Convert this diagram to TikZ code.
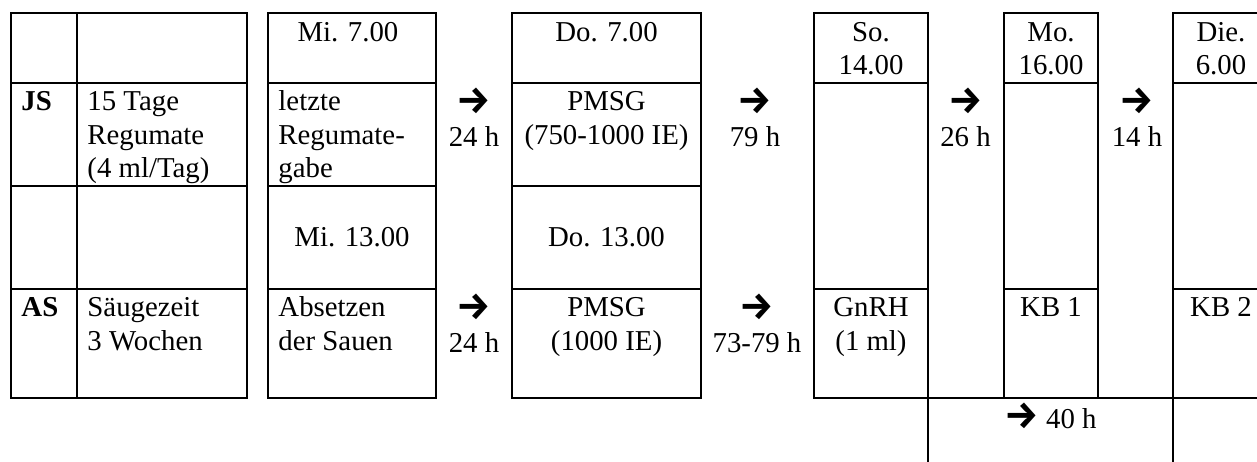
\documentclass[tikz,border=0pt]{standalone}
\usepackage{fontspec}
\setmainfont{Liberation Serif}
\newfontfamily\arrowfont{Fira Sans}
% rightwards arrow used between the day columns
\newcommand\harr{{\arrowfont\fontsize{16pt}{13.9pt}\selectfont\bfseries →}}
\begin{document}
\begin{tikzpicture}[x=0.41667pt,y=-0.41667pt,
  rule/.style={line width=0.85pt},
  cell/.style={font=\fontsize{12pt}{13.9pt}\selectfont, inner sep=0pt,
    anchor=north, align=center},
  lcell/.style={cell, anchor=north west, align=left},
  bcell/.style={lcell, font=\fontsize{12pt}{13.9pt}\selectfont\bfseries},
]
\useasboundingbox (0,0) rectangle (1257,461);

% --- frames ---------------------------------------------------------
% group labels and pre-treatment
\draw[rule] (11,13) rectangle (247,398);
\draw[rule] (77,13) -- (77,398);
\foreach \y in {83,186,289} \draw[rule] (11,\y) -- (247,\y);
% Wednesday
\draw[rule] (268,13) rectangle (436,398);
\foreach \y in {83,186,289} \draw[rule] (268,\y) -- (436,\y);
% Thursday
\draw[rule] (512,13) rectangle (701,398);
\foreach \y in {83,186,289} \draw[rule] (512,\y) -- (701,\y);
% Sunday, Monday, Tuesday
\draw[rule] (814,13) rectangle (928,398);
\draw[rule] (1004,13) rectangle (1098,398);
\draw[rule] (1173,13) rectangle (1269,398);
\foreach \y in {83,289} {
  \draw[rule] (814,\y) -- (928,\y);
  \draw[rule] (1004,\y) -- (1098,\y);
  \draw[rule] (1173,\y) -- (1269,\y);
}
% interval row below
\draw[rule] (928,398) -- (1173,398);
\draw[rule] (928,398) -- (928,470);
\draw[rule] (1173,398) -- (1173,470);

% --- texts (each cell starts with a strut so its first baseline is fixed) --
\node[bcell] (js) at (21,87.15) {\strut JS};
\node[lcell] (regu) at (87,87.15) {\strut 15 Tage\\Regumate\\(4 ml/Tag)};
\node[bcell] (as) at (21,293.15) {\strut AS};
\node[lcell] (saeug) at (87,293.15) {\strut Säugezeit\\3 Wochen};

\node[cell] (mi7) at (348,17.65) {\strut Mi. 7.00};
\node[lcell] (letzte) at (278,87.15) {\strut letzte\\Regumate-\\gabe};
\node[cell] (mi13) at (352,223.15) {\strut Mi. 13.00};
\node[lcell] (absetzen) at (278,293.15) {\strut Absetzen\\der Sauen};

\node[cell] (gapa) at (474,87.15) {\strut\harr\\24 h};
\node[cell] (gapb) at (474,293.15) {\strut\harr\\24 h};

\node[cell] (do7) at (606.5,17.65) {\strut Do. 7.00};
\node[cell] (pmsga) at (606.5,87.15) {\strut PMSG\\(750-1000 IE)};
\node[cell] (do13) at (606.5,223.15) {\strut Do. 13.00};
\node[cell] (pmsgb) at (606.5,293.15) {\strut PMSG\\(1000 IE)};

\node[cell] (gapc) at (755,87.15) {\strut\harr\\79 h};
\node[cell] (gapd) at (757,293.15) {\strut\harr\\73-79 h};

\node[cell] (so) at (871,17.65) {\strut So.\\14.00};
\node[cell] (gnrh) at (871,293.15) {\strut GnRH\\(1 ml)};

\node[cell] (gape) at (965.5,87.15) {\strut\harr\\26 h};

\node[cell] (mo) at (1051,17.65) {\strut Mo.\\16.00};
\node[cell] (kba) at (1051,293.15) {\strut KB 1};

\node[cell] (gapf) at (1137,87.15) {\strut\harr\\14 h};

\node[cell] (die) at (1221,17.65) {\strut Die.\\6.00};
\node[cell] (kbb) at (1221,293.15) {\strut KB 2};

\node[cell] (hours) at (1050.5,402.15) {\strut\harr\ 40 h};
\end{tikzpicture}
\end{document}
